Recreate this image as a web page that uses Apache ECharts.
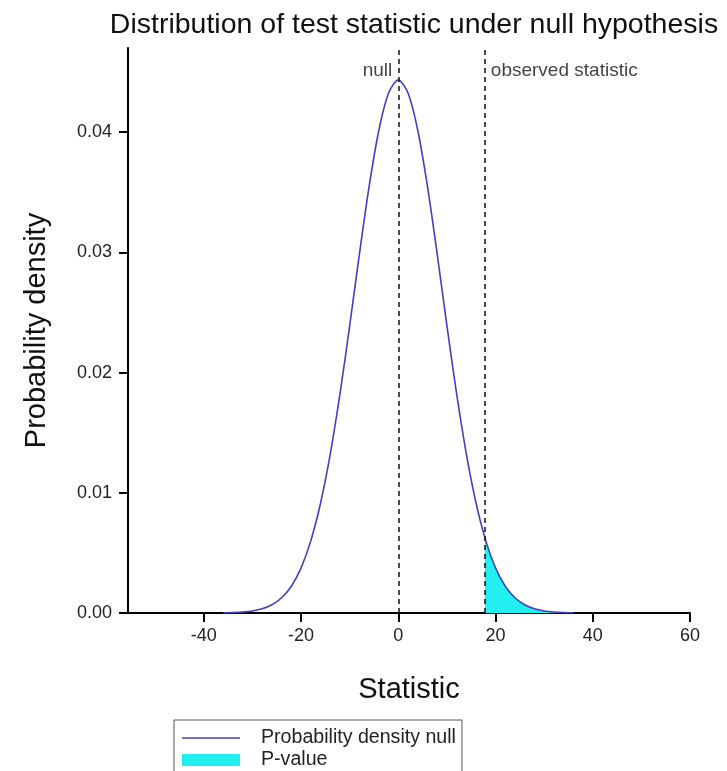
<!DOCTYPE html>
<html><head><meta charset="utf-8">
<script src="https://cdn.jsdelivr.net/npm/echarts@6/dist/echarts.min.js"></script>
<style>html,body{margin:0;padding:0;background:#fff}#c{width:727px;height:771px}</style>
</head><body><div id="c"></div>
<script>
// Values
var statX = [-36,-34,-32,-30,-28,-26,-24,-22,-20,-18,-16,-14,-12,-10,-8,-6,-4,-2,0,2,4,6,8,10,12,14,16,18,20,22,24,26,28,30,32,34,36];
var densityNull = [0.0000149,0.0000353,0.0000797,0.000171,0.000351,0.000683,0.00127,0.00223,0.00375,0.00600,0.00913,0.01322,0.01822,0.02391,0.02986,0.03549,0.04016,0.04325,0.04433,0.04325,0.04016,0.03549,0.02986,0.02391,0.01822,0.01322,0.00913,0.00600,0.00375,0.00223,0.00127,0.000683,0.000351,0.000171,0.0000797,0.0000353,0.0000149];
var observedStat = 17.8;
var pValueX = [17.8,18,20,22,24,26,28,30,32,34,36];
var pValueY = [0.00627,0.00600,0.00375,0.00223,0.00127,0.000683,0.000351,0.000171,0.0000797,0.0000353,0.0000149];
var xTicks = [-40,-20,0,20,40,60];
var yTicks = [0,0.01,0.02,0.03,0.04];
var refLines = [{x:0,label:'null'},{x:observedStat,label:'observed statistic'}];

var font = '"Liberation Sans", Arial, sans-serif';
var curveColor = '#4040c0';
var fillColor = '#22f0f0';
var nullData = statX.map(function(x,i){return [x,densityNull[i]];});
var pData = pValueX.map(function(x,i){return [x,pValueY[i]];});
var chart = echarts.init(document.getElementById('c'));
chart.setOption({
  animation:false,
  textStyle:{fontFamily:font},
  title:{text:'Distribution of test statistic under null hypothesis',left:409,textAlign:'center',top:6,
    textStyle:{fontFamily:font,fontSize:28.5,fontWeight:'normal',color:'#111'}},
  grid:{left:128,right:37,top:48,bottom:158},
  legend:{orient:'vertical',left:174,top:720,height:120,itemWidth:58,itemHeight:12,itemGap:2,
    borderColor:'#555',borderWidth:1,padding:[8,6,40,8],
    textStyle:{fontFamily:font,fontSize:19.6,color:'#222',padding:[0,0,0,16]},
    data:[{name:'Probability density null',icon:'path://M0,0H100V3H0Z',itemStyle:{color:curveColor}},
          {name:'P-value',icon:'rect'}]},
  xAxis:{type:'value',min:-55.6,max:60,name:'Statistic',nameLocation:'middle',nameGap:62,
    nameTextStyle:{fontFamily:font,fontSize:29,color:'#111'},
    axisLine:{onZero:false,lineStyle:{color:'#000',width:2}},
    axisTick:{customValues:xTicks,length:9,lineStyle:{color:'#000',width:2}},
    axisLabel:{customValues:xTicks,fontSize:18,color:'#222',margin:14,fontFamily:font},
    splitLine:{show:false}},
  yAxis:{type:'value',min:0,max:0.047,name:'Probability density',nameLocation:'middle',nameGap:77,
    nameTextStyle:{fontFamily:font,fontSize:29,color:'#111'},
    axisLine:{show:true,onZero:false,lineStyle:{color:'#000',width:2}},
    axisTick:{show:true,customValues:yTicks,length:9,lineStyle:{color:'#000',width:2}},
    axisLabel:{customValues:yTicks,fontSize:18,color:'#222',margin:16,fontFamily:font,
      formatter:function(v){return v.toFixed(2);}},
    splitLine:{show:false}},
  series:[
    {name:'P-value',type:'line',data:pData,symbol:'none',smooth:0.3,z:1,
      lineStyle:{width:0,color:fillColor},itemStyle:{color:fillColor},
      areaStyle:{color:fillColor,opacity:1}},
    {name:'Probability density null',type:'line',data:nullData,symbol:'none',smooth:0.3,z:3,
      lineStyle:{color:curveColor,width:1.6},itemStyle:{color:curveColor},
      markLine:{symbol:'none',silent:true,label:{show:false},
        lineStyle:{color:'#111',type:[5,4],width:1.5},
        data:refLines.map(function(r){return {xAxis:r.x};})}},
    {name:'labels',type:'scatter',symbolSize:0,silent:true,z:4,
      data:refLines.map(function(r,i){return {value:[r.x,0.0451],
        label:{show:true,formatter:r.label,position:i===0?'left':'right',distance:6,
          fontFamily:font,fontSize:19,color:'#111'}};})}
  ]
});
</script></body></html>
